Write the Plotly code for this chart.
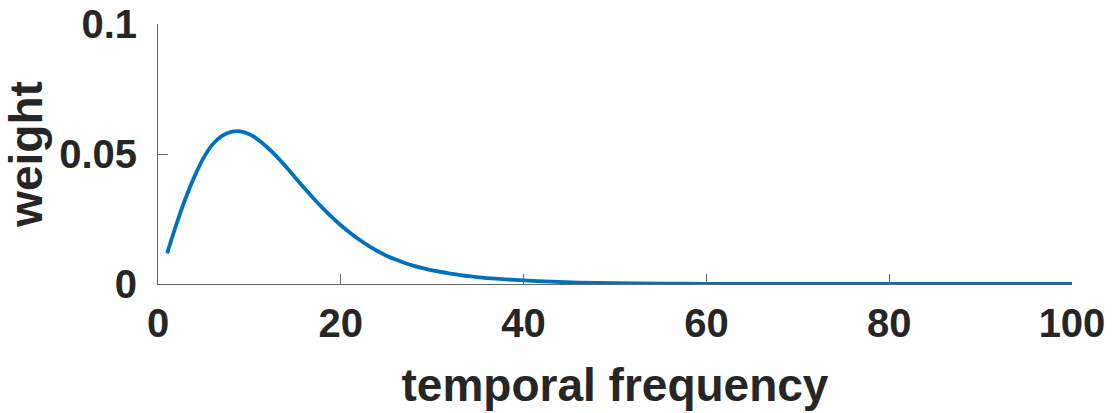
import plotly.graph_objects as go

# temporal frequency (x) and weight (y)
freq = [1, 2, 3, 4, 5, 6, 7, 8, 9, 10, 11, 12, 13, 14, 15, 16, 17, 18, 19, 20,
        21, 22, 23, 24, 25, 26, 27, 28, 29, 30, 32, 34, 36, 38, 40, 43, 46, 50,
        55, 60, 70, 80, 90, 100]
weight = [0.0118, 0.0228, 0.0328, 0.0414, 0.0486, 0.0538, 0.0570, 0.0585, 0.0587,
          0.0576, 0.0554, 0.0524, 0.0490, 0.0451, 0.0410, 0.0369, 0.0330, 0.0293,
          0.0258, 0.0226, 0.0197, 0.0171, 0.0148, 0.0127, 0.0109, 0.0094, 0.0081,
          0.0070, 0.0061, 0.0052, 0.0040, 0.0030, 0.0023, 0.0018, 0.0014, 0.0009,
          0.0005, 0.0003, 0.00015, 0.00007, 0.00002, 0.0, 0.0, 0.0]

x_ticks = [0, 20, 40, 60, 80, 100]
x_tick_labels = ["0", "20", "40", "60", "80", "100"]
y_ticks = [0, 0.05, 0.1]
y_tick_labels = ["0", "0.05", "0.1"]

font_family = "Liberation Sans, Arial, sans-serif"
text_color = "#262626"
axis_color = "#666666"

fig = go.Figure()
fig.add_trace(go.Scatter(
    x=freq, y=weight, mode="lines",
    line=dict(color="#0072BD", width=3.8, shape="spline", smoothing=0.6),
    showlegend=False, hoverinfo="skip",
))

fig.update_layout(
    width=1112, height=413,
    margin=dict(l=158, r=40, t=24, b=129),
    paper_bgcolor="white", plot_bgcolor="white",
    font=dict(family=font_family, color=text_color),
)

fig.update_xaxes(
    range=[0, 100], autorange=False, automargin=False,
    tickvals=x_ticks, ticktext=x_tick_labels,
    showgrid=False, zeroline=False,
    showline=True, linecolor=axis_color, linewidth=1,
    ticks="inside", ticklen=10, tickcolor=axis_color, tickwidth=1,
    tickfont=dict(size=40, family=font_family, color=text_color, weight="bold"),
    ticklabelstandoff=4,
    title=dict(text="temporal frequency", standoff=24,
               font=dict(size=46, family=font_family, color=text_color, weight="bold")),
)
fig.update_yaxes(
    range=[0, 0.1], autorange=False, automargin=False,
    tickvals=y_ticks, ticktext=y_tick_labels,
    showgrid=False, zeroline=False,
    showline=True, linecolor=axis_color, linewidth=1,
    ticks="inside", ticklen=10, tickcolor=axis_color, tickwidth=1,
    tickfont=dict(size=40, family=font_family, color=text_color, weight="bold"),
    ticklabelstandoff=12,
    title=dict(text="weight", standoff=10,
               font=dict(size=46, family=font_family, color=text_color, weight="bold")),
)

fig.write_html("out.html")
